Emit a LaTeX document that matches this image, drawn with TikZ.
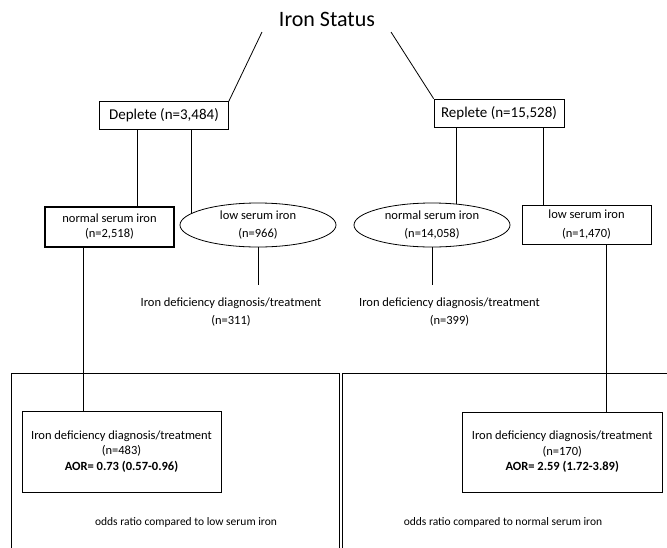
\documentclass[tikz,border=0pt]{standalone}
\usepackage{fontspec}
\setmainfont{Carlito}
\usetikzlibrary{shapes.geometric}
\begin{document}
\begin{tikzpicture}[x=1pt,y=-1pt,
  every node/.style={inner sep=0pt, align=center},
  ln/.style={draw=black, line width=0.8pt},
  boxA/.style={draw=black, line width=0.8pt, rectangle},
  boxB/.style={draw=black, line width=0.8pt, ellipse, minimum width=156pt, minimum height=44pt},
  big/.style={font=\fontsize{15}{18}\selectfont},
  sm/.style={font=\fontsize{12.5}{15}\selectfont},
  smw/.style={font=\fontsize{12.5}{18}\selectfont},
  tiny/.style={font=\fontsize{11.5}{14}\selectfont}]
\useasboundingbox (0,0) rectangle (667,547);
\fill[white] (0,0) rectangle (667,547);

% title
\node[font=\fontsize{22}{26}\selectfont] (title) at (327,19) {Iron Status};
\coordinate (t1) at (262,32);
\coordinate (t2) at (391,32);

% level 1
\node[boxA, big, minimum width=129pt, minimum height=28pt] (dep) at (164,115.5) {Deplete (n=3,484)};
\node[boxA, big, minimum width=130pt, minimum height=28pt] (rep) at (499,113) {Replete (n=15,528)};
\draw[ln] (t1) -- (dep.north east);
\draw[ln] (t2) -- (rep.north west);

% level 2
\node[boxA, sm, line width=1.6pt, minimum width=129pt, minimum height=40pt] (normL) at (109.5,227) {normal serum iron\\(n=2,518)};
\node[boxB, smw] (lowL) at (258,225) {low serum iron\\(n=966)};
\node[boxB, smw] (normR) at (432,225) {normal serum iron\\(n=14,058)};
\node[boxA, font=\fontsize{12.5}{19}\selectfont, minimum width=129pt, minimum height=39pt] (lowR) at (586.5,224.5) {low serum iron\\(n=1,470)};

\coordinate (eL) at (191.5,213);
\coordinate (eR) at (456,204.2);
\draw[ln] (137,0 |- dep.south) -- (137,0 |- normL.north);
\draw[ln] (191.5,0 |- dep.south) -- (eL);
\draw[ln] (456,0 |- rep.south) -- (eR);
\draw[ln] (543,0 |- rep.south) -- (543,0 |- lowR.north);

% level 3 (free text)
\coordinate (dL) at (258,285);
\coordinate (dR) at (432,285);
\draw[ln] (lowL.south) -- (dL);
\draw[ln] (normR.south) -- (dR);
\node[smw] (txL) at (231,312) {Iron deficiency diagnosis/treatment\\(n=311)};
\node[smw] (txR) at (449.5,312) {Iron deficiency diagnosis/treatment\\(n=399)};

% big frames
\draw[ln] (11,550) -- (11,373) -- (339,373) -- (339,550);
\draw[ln] (342,550) -- (342,373) -- (670,373);

% inner boxes
\node[boxA, font=\fontsize{12.5}{15.5}\selectfont, minimum width=199pt, minimum height=81pt] (iL) at (121.5,451.5)
  {Iron deficiency diagnosis/treatment\\(n=483)\\\textbf{AOR= 0.73 (0.57-0.96)}};
\node[boxA, font=\fontsize{12.5}{15.5}\selectfont, minimum width=199.5pt, minimum height=80pt] (iR) at (562.25,452)
  {Iron deficiency diagnosis/treatment\\(n=170)\\\textbf{AOR= 2.59 (1.72-3.89)}};
\draw[ln] (83,0 |- normL.south) -- (83,0 |- iL.north);
\draw[ln] (606,0 |- lowR.south) -- (606,0 |- iR.north);

\node[tiny] (orL) at (186,522) {odds ratio compared to low serum iron};
\node[tiny] (orR) at (503,522) {odds ratio compared to normal serum iron};
\end{tikzpicture}
\end{document}
